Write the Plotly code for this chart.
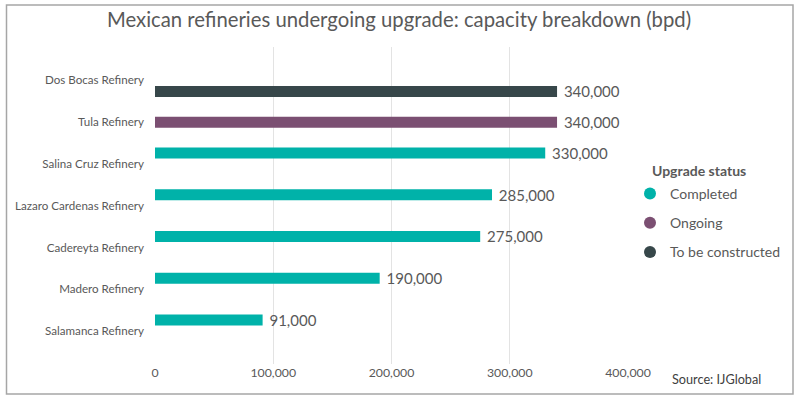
import plotly.graph_objects as go

refineries = ["Dos Bocas Refinery", "Tula Refinery", "Salina Cruz Refinery",
              "Lazaro Cardenas Refinery", "Cadereyta Refinery", "Madero Refinery",
              "Salamanca Refinery"]
capacity = [340000, 340000, 330000, 285000, 275000, 190000, 91000]
status = ["To be constructed", "Ongoing", "Completed", "Completed",
          "Completed", "Completed", "Completed"]
status_order = ["Completed", "Ongoing", "To be constructed"]
status_colors = {"Completed": "#00B2A9", "Ongoing": "#7B4F72", "To be constructed": "#37474A"}
x_ticks = [0, 100000, 200000, 300000, 400000]
x_tick_labels = ["0", "100,000", "200,000", "300,000", "400,000"]
legend_title = "Upgrade status"

FONT = "Lato"
GRAY = "#595959"

fig = go.Figure()
for s in status_order:
    xs = [c if st == s else None for c, st in zip(capacity, status)]
    fig.add_trace(go.Bar(
        y=refineries, x=xs, orientation="h", name=s,
        marker=dict(color=status_colors[s], line=dict(width=0)),
        texttemplate="\u00a0%{x:,}", textposition="outside", constraintext="none",
        textfont=dict(size=15, color=GRAY, family=FONT),
        cliponaxis=False, showlegend=False, hoverinfo="skip"))
for s in status_order:
    fig.add_trace(go.Scatter(
        x=[None], y=[None], mode="markers", name=s, legendgroup=s,
        marker=dict(symbol="circle", size=12, color=status_colors[s]),
        showlegend=True))

# plot area pixels: x 155..628, y 47..364
pw, ph = 628 - 155, 364 - 47
fig.update_layout(
    width=798, height=399,
    margin=dict(l=155, r=798 - 628, t=47, b=399 - 364, autoexpand=False),
    paper_bgcolor="white", plot_bgcolor="white",
    barmode="group", bargap=0.21, bargroupgap=0.0,
    font=dict(family=FONT, color=GRAY),
    title=dict(text="Mexican refineries undergoing upgrade: capacity breakdown (bpd)",
               x=0.5, xanchor="center", y=0.95, yanchor="middle",
               font=dict(size=20.3, color=GRAY, family=FONT)),
    xaxis=dict(range=[0, 400000], tickvals=x_ticks, ticktext=x_tick_labels,
               showgrid=True, gridcolor="#E3E3E3", gridwidth=1, automargin=False,
               zeroline=False, showline=False, ticks="",
               tickfont=dict(size=12.3, color=GRAY, family=FONT)),
    yaxis=dict(type="category", categoryorder="array", categoryarray=refineries,
               range=[6.79, -0.80], showgrid=False, zeroline=False, ticks="",
               automargin=False, ticklabelstandoff=10,
               tickfont=dict(size=11.6, color=GRAY, family=FONT)),
    legend=dict(x=(630 - 155) / pw, xanchor="left", y=(364 - 178) / ph, yanchor="top",
                font=dict(size=14, color=GRAY, family=FONT), traceorder="grouped",
                itemsizing="constant", tracegroupgap=8, bgcolor="rgba(0,0,0,0)"),
    shapes=[dict(type="rect", xref="paper", yref="paper",
                 x0=(6.5 - 155) / pw, x1=(793 - 155) / pw,
                 y0=(364 - 394) / ph, y1=(364 - 5) / ph,
                 line=dict(color="#A6A6A6", width=1.5), fillcolor="rgba(0,0,0,0)",
                 layer="below")],
    annotations=[
        dict(text="Source: IJGlobal", xref="paper", yref="paper",
             x=(763 - 155) / pw, xanchor="right",
             y=(364 - 379) / ph, yanchor="middle", showarrow=False,
             font=dict(size=12.7, color="#404040", family=FONT)),
        dict(text="<b>" + legend_title + "</b>", xref="paper", yref="paper",
             x=(650 - 155) / pw, xanchor="left",
             y=(364 - 170) / ph, yanchor="middle", showarrow=False,
             font=dict(size=14, color=GRAY, family=FONT)),
    ],
)
fig.write_html("out.html", config={"displayModeBar": False},
               post_script="document.body.style.margin='0';document.body.style.padding='0';")
